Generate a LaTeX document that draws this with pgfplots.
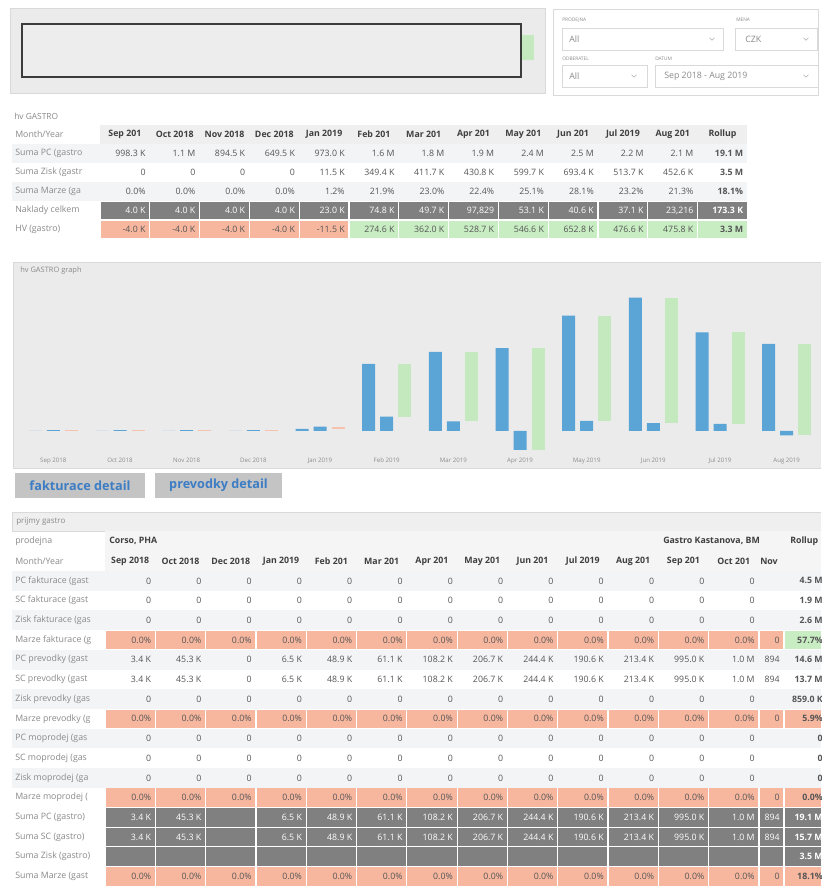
\documentclass[border=0pt]{standalone}
\usepackage{fontspec}
\setmainfont{Open Sans}
\usepackage{pgfplots}
\usepackage{pgfplotstable}
\pgfplotsset{compat=1.18}

\definecolor{panel}{HTML}{EBEBEB}
\definecolor{panelline}{HTML}{D9D9D9}
\definecolor{innerbox}{HTML}{EDEDED}
\definecolor{boxdark}{HTML}{3C3C3C}
\definecolor{barblue}{HTML}{5AA4D6}
\definecolor{bargreen}{HTML}{C5E9BF}
\definecolor{barred}{HTML}{F6C3AE}
\definecolor{salmon}{HTML}{F7B79F}
\definecolor{posgreen}{HTML}{C8EDC2}
\definecolor{darkcell}{HTML}{808080}
\definecolor{rowlight}{HTML}{F3F4F6}
\definecolor{hdrgray}{HTML}{EFEFEF}
\definecolor{labelgray}{HTML}{8A8A8A}
\definecolor{valgray}{HTML}{555555}
\definecolor{hdrtext}{HTML}{3F3F3F}
\definecolor{btngray}{HTML}{C4C4C4}
\definecolor{btnblue}{HTML}{3C7DC4}
\definecolor{ticklab}{HTML}{8C8C8C}

% hv GASTRO graph: Zisk, Naklady, HV per month (K CZK)
\pgfplotstableread{
m Z N HV
0 0 4.0 -4.0
1 0 4.0 -4.0
2 0 4.0 -4.0
3 0 4.0 -4.0
4 11.5 23.0 -11.5
5 349.4 74.8 274.6
6 411.7 49.7 362.0
7 430.8 -97.829 528.7
8 599.7 53.1 546.6
9 693.4 40.6 652.8
10 513.7 37.1 476.6
11 452.6 -23.216 475.8
}\hvdata

\newcommand{\tf}{\fontsize{6.6}{8}\selectfont}
% cells: x0, width, count, ytop, height, colour
\newcommand{\cells}[6]{%
  \foreach \k in {1,...,#3}
    \fill[#6] ({#1+#2*(\k-1)+0.6},{#4+0.6}) rectangle ({#1+#2*\k-0.6},{#4+#5-0.6});}
% right aligned values: x0, width, y, style, list
\newcommand{\rowvals}[5]{%
  \foreach \v [count=\k from 0] in {#5}
    \node[anchor=east, inner sep=0pt, font=\tf, #4] at ({#1+#2*\k+#2-4},#3) {\v};}
\newcommand{\rlabel}[2]{\node[anchor=west, inner sep=0pt, font=\tf, text=labelgray] at (15,#1) {#2};}
% table 2 row cells: ytop, colour, rollup colour
\newcommand{\Tcells}[3]{%
  \cells{105}{50.3}{13}{#1}{19.7}{#2}
  \fill[#2] (759.5,{#1+0.6}) rectangle (783.4,{#1+19.1});
  \fill[#3] (784.6,{#1+0.6}) rectangle (821,{#1+19.1});}
% table 2 row text: yc, label, 13 values, nov, rollup, colour
\newcommand{\Ttext}[6]{%
  \rlabel{#1}{#2}
  \rowvals{105}{50.3}{#1}{text=#6}{#3}
  \node[anchor=east, inner sep=0pt, font=\tf, text=#6] at (780,#1) {#4};
  \node[anchor=east, inner sep=0pt, font=\tf\bfseries, text=#6] at (823,#1) {#5};}

\begin{document}
\begin{tikzpicture}
\useasboundingbox (0,0) rectangle (615.75pt,-665.25pt);
\begin{scope}[x=0.75pt,y=-0.75pt]
\clip (0,0) rectangle (821,887);
\fill[white] (0,0) rectangle (821,887);

% top left panel
\fill[panel] (10,8) rectangle (545,93);
\draw[panelline] (10,8) rectangle (545,93);
\fill[bargreen] (521,35) rectangle (534,60);
\fill[innerbox] (22,24) rectangle (521,77);
\draw[boxdark, line width=1.1pt] (22,24) rectangle (521,77);

% filter panel
\draw[panelline, fill=white] (553,9) rectangle (818,95);
\begin{scope}[every node/.style={inner sep=0pt, anchor=west}]
\node[font=\fontsize{3.6}{4}\selectfont, text=labelgray] at (562,20) {PRODEJNA};
\node[font=\fontsize{3.6}{4}\selectfont, text=labelgray] at (736,20) {MENA};
\node[font=\fontsize{3.6}{4}\selectfont, text=labelgray] at (562,59) {ODBERATEL};
\node[font=\fontsize{3.6}{4}\selectfont, text=labelgray] at (655,59) {DATUM};
\draw[panelline] (562,28) rectangle (723,50);
\draw[panelline] (735,28) rectangle (817,50);
\draw[panelline] (562,65) rectangle (647,87);
\draw[panelline] (655,65) rectangle (818,87);
\node[font=\fontsize{6.6}{8}\selectfont, text=labelgray] at (569,39) {All};
\node[font=\fontsize{6.6}{8}\selectfont, text=labelgray] at (745,39) {CZK};
\node[font=\fontsize{6.6}{8}\selectfont, text=labelgray] at (569,76) {All};
\node[font=\fontsize{6.6}{8}\selectfont, text=labelgray] at (664,76) {Sep 2018 - Aug 2019};
\end{scope}
\foreach \cx/\cy in {712/39, 806/39, 634/76, 806/76}
  \draw[labelgray!70, line width=0.4pt] (\cx-2.5,\cy-1.2) -- (\cx,\cy+1.2) -- (\cx+2.5,\cy-1.2);

% table 1: hv GASTRO
\node[anchor=west, inner sep=0pt, font=\fontsize{6.3}{7}\selectfont, text=labelgray] at (14,116) {hv GASTRO};
\fill[hdrgray] (100,125) rectangle (747.4,144);
\fill[rowlight] (12,144) rectangle (747.4,163);
\fill[rowlight] (12,182) rectangle (747.4,201);
\cells{100}{49.8}{13}{201}{19}{darkcell}
\cells{100}{49.8}{5}{220}{19}{salmon}
\cells{349}{49.8}{8}{220}{19}{posgreen}
\rlabel{134.5}{Month/Year}
\foreach \h [count=\k from 0] in {Sep 201, Oct 2018, Nov 2018, Dec 2018, Jan 2019, Feb 201, Mar 201, Apr 201, May 201, Jun 201, Jul 2019, Aug 201, Rollup}
  \node[inner sep=0pt, font=\tf\bfseries, text=hdrtext] at ({100+49.8*\k+24.9},134.5) {\h};
\rlabel{153.5}{Suma PC (gastro}
\rowvals{100}{49.8}{153.5}{text=valgray}{998.3 K, 1.1 M, 894.5 K, 649.5 K, 973.0 K, 1.6 M, 1.8 M, 1.9 M, 2.4 M, 2.5 M, 2.2 M, 2.1 M}
\rlabel{172.5}{Suma Zisk (gastr}
\rowvals{100}{49.8}{172.5}{text=valgray}{0, 0, 0, 0, 11.5 K, 349.4 K, 411.7 K, 430.8 K, 599.7 K, 693.4 K, 513.7 K, 452.6 K}
\rlabel{191.5}{Suma Marze (ga}
\rowvals{100}{49.8}{191.5}{text=valgray}{0.0\%, 0.0\%, 0.0\%, 0.0\%, 1.2\%, 21.9\%, 23.0\%, 22.4\%, 25.1\%, 28.1\%, 23.2\%, 21.3\%}
\rlabel{210.5}{Naklady celkem}
\rowvals{100}{49.8}{210.5}{text=white}{4.0 K, 4.0 K, 4.0 K, 4.0 K, 23.0 K, 74.8 K, 49.7 K, {97,829}, 53.1 K, 40.6 K, 37.1 K, {23,216}}
\rlabel{229.5}{HV (gastro)}
\rowvals{100}{49.8}{229.5}{text=valgray}{-4.0 K, -4.0 K, -4.0 K, -4.0 K, -11.5 K, 274.6 K, 362.0 K, 528.7 K, 546.6 K, 652.8 K, 476.6 K, 475.8 K}
\foreach \y/\v/\c in {153.5/19.1 M/valgray, 172.5/3.5 M/valgray, 191.5/18.1\%/valgray, 210.5/173.3 K/white, 229.5/3.3 M/valgray}
  \node[anchor=east, inner sep=0pt, font=\tf\bfseries, text=\c] at (743.4,\y) {\v};

% chart panel
\fill[panel] (13,262) rectangle (821,468);
\draw[panelline] (13,262) rectangle (825,468);
\node[anchor=west, inner sep=0pt, font=\fontsize{5.6}{6}\selectfont, text=labelgray] at (20,271) {hv GASTRO graph};

% buttons
\fill[btngray] (15,473) rectangle (145,498);
\fill[btngray] (155,473) rectangle (282,498);
\node[inner sep=0pt, font=\fontsize{9.5}{11}\selectfont\bfseries, text=btnblue] at (80,485.5) {fakturace detail};
\node[inner sep=0pt, font=\fontsize{9.5}{11}\selectfont\bfseries, text=btnblue] at (218.5,485.5) {prevodky detail};

% table 2: prijmy gastro
\fill[hdrgray] (12,512) rectangle (821,531);
\draw[panelline] (12,512) rectangle (825,531);
\node[anchor=west, inner sep=0pt, font=\fontsize{6}{7}\selectfont, text=labelgray] at (16,521.5) {prijmy gastro};
\fill[hdrgray!60] (105,531) rectangle (821,571);
\rlabel{541}{prodejna}
\rlabel{561}{Month/Year}
\node[anchor=west, inner sep=0pt, font=\tf\bfseries, text=hdrtext] at (109,541) {Corso, PHA};
\node[anchor=west, inner sep=0pt, font=\tf\bfseries, text=hdrtext] at (663,541) {Gastro Kastanova, BM};
\node[anchor=west, inner sep=0pt, font=\tf\bfseries, text=hdrtext] at (790,541) {Rollup};
\foreach \h [count=\k from 0] in {Sep 2018, Oct 2018, Dec 2018, Jan 2019, Feb 201, Mar 201, Apr 201, May 201, Jun 201, Jul 2019, Aug 201, Sep 201, Oct 201}
  \node[inner sep=0pt, font=\tf\bfseries, text=hdrtext] at ({105+50.3*\k+25.15},561) {\h};
\node[anchor=west, inner sep=0pt, font=\tf\bfseries, text=hdrtext] at (760,561) {Nov};

% row backgrounds
\foreach \t in {571, 610.4, 649.8, 689.2, 728.6, 768}
  \fill[rowlight] (12,\t) rectangle (821,{\t+19.7});
\Tcells{630.1}{salmon}{posgreen}
\Tcells{708.9}{salmon}{salmon}
\Tcells{787.7}{salmon}{salmon}
\Tcells{807.4}{darkcell}{darkcell}
\Tcells{827.1}{darkcell}{darkcell}
\Tcells{846.8}{darkcell}{darkcell}
\Tcells{866.5}{salmon}{salmon}

\Ttext{580.85}{PC fakturace (gast}{0,0,0,0,0,0,0,0,0,0,0,0,0}{}{4.5 M}{valgray}
\Ttext{600.55}{SC fakturace (gast}{0,0,0,0,0,0,0,0,0,0,0,0,0}{}{1.9 M}{valgray}
\Ttext{620.25}{Zisk fakturace (gas}{0,0,0,0,0,0,0,0,0,0,0,0,0}{}{2.6 M}{valgray}
\Ttext{639.95}{Marze fakturace (g}{0.0\%,0.0\%,0.0\%,0.0\%,0.0\%,0.0\%,0.0\%,0.0\%,0.0\%,0.0\%,0.0\%,0.0\%,0.0\%}{0}{57.7\%}{valgray}
\Ttext{659.65}{PC prevodky (gast}{3.4 K, 45.3 K, 0, 6.5 K, 48.9 K, 61.1 K, 108.2 K, 206.7 K, 244.4 K, 190.6 K, 213.4 K, 995.0 K, 1.0 M}{894}{14.6 M}{valgray}
\Ttext{679.35}{SC prevodky (gast}{3.4 K, 45.3 K, 0, 6.5 K, 48.9 K, 61.1 K, 108.2 K, 206.7 K, 244.4 K, 190.6 K, 213.4 K, 995.0 K, 1.0 M}{894}{13.7 M}{valgray}
\Ttext{699.05}{Zisk prevodky (gas}{0,0,0,0,0,0,0,0,0,0,0,0,0}{}{859.0 K}{valgray}
\Ttext{718.75}{Marze prevodky (g}{0.0\%,0.0\%,0.0\%,0.0\%,0.0\%,0.0\%,0.0\%,0.0\%,0.0\%,0.0\%,0.0\%,0.0\%,0.0\%}{0}{5.9\%}{valgray}
\Ttext{738.45}{PC moprodej (gas}{0,0,0,0,0,0,0,0,0,0,0,0,0}{}{0}{valgray}
\Ttext{758.15}{SC moprodej (gas}{0,0,0,0,0,0,0,0,0,0,0,0,0}{}{0}{valgray}
\Ttext{777.85}{Zisk moprodej (ga}{0,0,0,0,0,0,0,0,0,0,0,0,0}{}{0}{valgray}
\Ttext{797.55}{Marze moprodej (}{0.0\%,0.0\%,0.0\%,0.0\%,0.0\%,0.0\%,0.0\%,0.0\%,0.0\%,0.0\%,0.0\%,0.0\%,0.0\%}{0}{0.0\%}{valgray}
\Ttext{817.25}{Suma PC (gastro)}{3.4 K, 45.3 K, {}, 6.5 K, 48.9 K, 61.1 K, 108.2 K, 206.7 K, 244.4 K, 190.6 K, 213.4 K, 995.0 K, 1.0 M}{894}{19.1 M}{white}
\Ttext{836.95}{Suma SC (gastro)}{3.4 K, 45.3 K, {}, 6.5 K, 48.9 K, 61.1 K, 108.2 K, 206.7 K, 244.4 K, 190.6 K, 213.4 K, 995.0 K, 1.0 M}{894}{15.7 M}{white}
\Ttext{856.65}{Suma Zisk (gastro)}{{},{},{},{},{},{},{},{},{},{},{},{},{}}{}{3.5 M}{white}
\Ttext{876.35}{Suma Marze (gast}{0.0\%,0.0\%,0.0\%,0.0\%,0.0\%,0.0\%,0.0\%,0.0\%,0.0\%,0.0\%,0.0\%,0.0\%,0.0\%}{0}{18.1\%}{valgray}
\end{scope}

\begin{axis}[
  at={(15pt,-339.825pt)}, anchor=south west,
  scale only axis, width=600pt, height=126.15pt,
  xmin=-0.5, xmax=11.5, ymin=-115, ymax=760,
  axis line style={draw=none}, major tick length=0pt,
  ytick=\empty, xtick={0,...,11},
  xticklabels={Sep 2018, Oct 2018, Nov 2018, Dec 2018, Jan 2019, Feb 2019, Mar 2019, Apr 2019, May 2019, Jun 2019, Jul 2019, Aug 2019},
  xticklabel style={font=\fontsize{4.6}{5}\selectfont, text=ticklab},
  clip=false,
]
% Zisk
\addplot[ybar, bar width=9.75pt, bar shift=-13.5pt, fill=barblue, draw=none] table[x=m, y=Z] {\hvdata};
% Naklady
\addplot[ybar, bar width=9.75pt, bar shift=0pt, fill=barblue, draw=none] table[x=m, y=N] {\hvdata};
% HV positive: floating from Naklady up to Zisk
\addplot[draw=none, mark=none, restrict expr to domain={\thisrow{HV}}{0:100000},
  error bars/.cd, y dir=both, y explicit, error mark=none,
  error bar style={draw=bargreen, line width=9.75pt}]
  table[x expr=\thisrow{m}+0.27, y=Z, y error plus expr=0, y error minus=HV] {\hvdata};
% HV negative
\addplot[draw=none, mark=none, restrict expr to domain={\thisrow{HV}}{-100000:0},
  error bars/.cd, y dir=both, y explicit, error mark=none,
  error bar style={draw=barred, line width=9.75pt}]
  table[x expr=\thisrow{m}+0.27, y=Z, y error plus expr=-\thisrow{HV}, y error minus expr=0] {\hvdata};
\end{axis}
\end{tikzpicture}
\end{document}
